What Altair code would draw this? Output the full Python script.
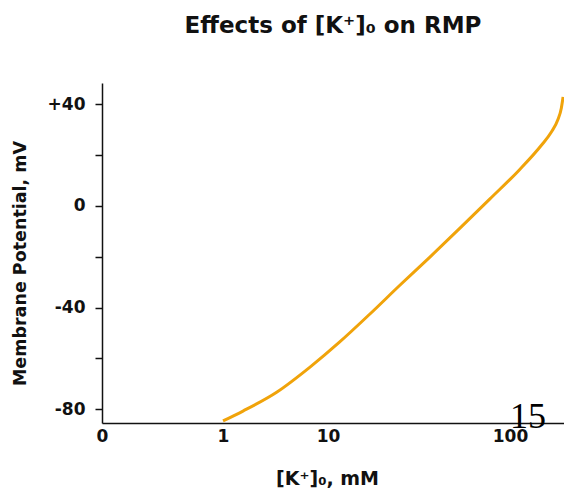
import altair as alt
import pandas as pd

# Curve: external K+ (mM) vs membrane potential (mV)
k_mm = [1.0, 1.55, 3.27, 6.74, 11.6, 17.0, 24.9, 36.3, 53.1, 77.6, 114, 156, 179, 196, 206, 211]
mv = [-84.6, -80.7, -73.2, -63.4, -53.5, -42.5, -31.1, -20.1, -8.7, 2.8, 14.2, 24.0, 29.1, 33.9, 38.6, 42.9]

# Axis (log10 positions of the irregular K axis) and labels
x_tick_pos = [-1, 0, 1, 2]
x_tick_labels = ["0", "1", "10", "100"]
y_ticks = [-80, -60, -40, -20, 0, 20, 40]
y_labeled = [-80, -40, 0, 40]

# Page-number annotation
note_text = ["15"]
note_k = [129]
note_mv = [-87.4]

FONT = "DejaVu Sans"
ORANGE = "#F0A30A"

df = pd.DataFrame({"K": k_mm, "mV": mv})
notes = pd.DataFrame({"t": note_text, "K": note_k, "mV": note_mv})

# label expressions built from the lists
x_expr = "''"
for p, lab in zip(x_tick_pos, x_tick_labels):
    x_expr = f"datum.value == {p} ? '{lab}' : ({x_expr})"
y_expr = "''"
for v in y_labeled:
    lab = f"+{v}" if v > 0 else str(v)
    y_expr = f"datum.value == {v} ? '{lab}' : ({y_expr})"

xscale = alt.Scale(domain=[-1, 0, 1, 2, 2.33], range=[0, 121, 226, 408, 462])
yscale = alt.Scale(domain=[-85.4, 48.4], nice=False, zero=False)

xaxis = alt.Axis(
    values=x_tick_pos, labelExpr=x_expr, ticks=False, grid=False,
    domainColor="#111", domainWidth=1.5,
    labelFont=FONT, labelFontSize=17, labelFontWeight="bold", labelColor="#111",
    labelPadding=5, labelFlush=False, labelOverlap=False, labelAlign="center",
    title="[K⁺]₀, mM", titleFont=FONT, titleFontSize=19, titleFontWeight="bold",
    titleColor="#111", titleX=225, titleY=55, titleBaseline="middle", titleAnchor="middle",
)
yaxis = alt.Axis(
    values=y_ticks, labelExpr=y_expr, grid=False,
    tickSize=7, tickWidth=1.5, tickColor="#111",
    domainColor="#111", domainWidth=1.5,
    labelFont=FONT, labelFontSize=17, labelFontWeight="bold", labelColor="#111",
    labelPadding=10, labelOverlap=False, labelFlush=False,
    title="Membrane Potential, mV", titleFont=FONT, titleFontSize=17.5,
    titleFontWeight="bold", titleColor="#111",
    titleX=-82, titleY=180, titleAngle=-90, titleBaseline="middle", titleAlign="center",
)

line = alt.Chart(df).mark_line(
    color=ORANGE, strokeWidth=3, interpolate="monotone", clip=False
).transform_calculate(
    lk="log(datum.K) / LN10"
).encode(
    x=alt.X("lk:Q", scale=xscale, axis=xaxis),
    y=alt.Y("mV:Q", scale=yscale, axis=yaxis),
)

note = alt.Chart(notes).mark_text(
    font="Liberation Serif", fontSize=36, color="#000", baseline="alphabetic", align="center"
).transform_calculate(
    lk="log(datum.K) / LN10"
).encode(
    x=alt.X("lk:Q", scale=xscale),
    y=alt.Y("mV:Q", scale=yscale),
    text="t:N",
)

chart = alt.layer(line, note).properties(
    width=462, height=340,
    background="white",
    title=alt.TitleParams(
        "Effects of [K⁺]₀ on RMP", font=FONT, fontSize=23, fontWeight="bold",
        color="#111", anchor="middle", offset=45,
    ),
    autosize=alt.AutoSizeParams(type="none"),
    padding={"left": 94, "top": 75, "right": 0, "bottom": 70},
).configure_view(strokeWidth=0, stroke="transparent")

chart.save("out.html", embed_options={"renderer": "svg", "actions": False})
